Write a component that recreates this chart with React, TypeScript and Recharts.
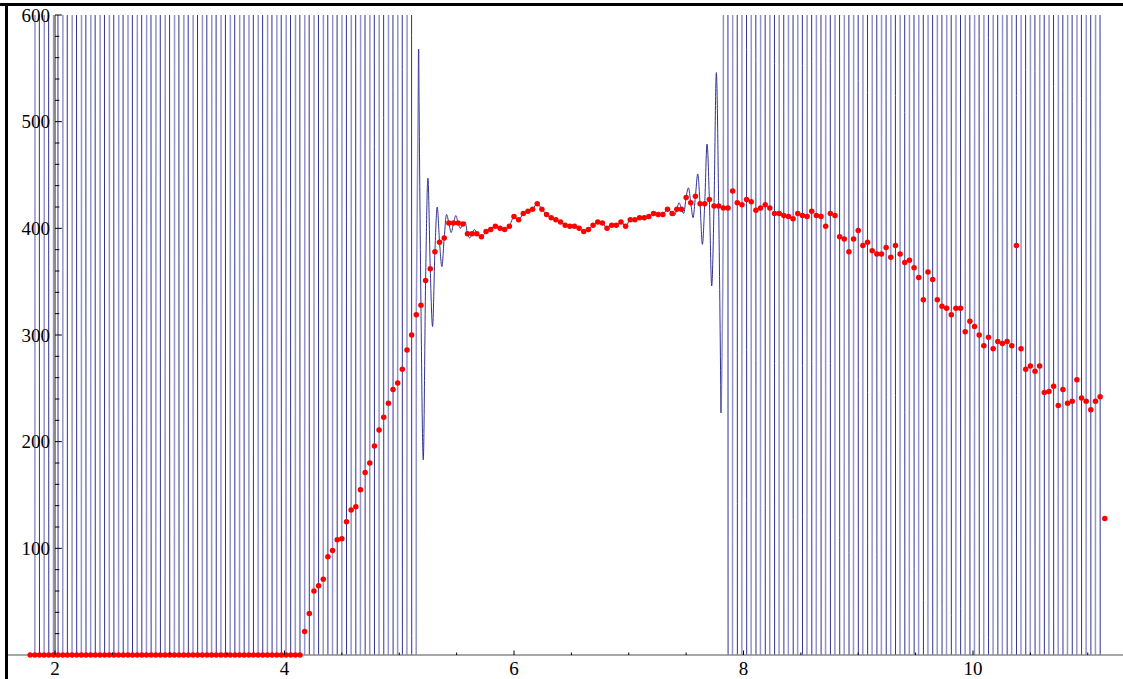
import React from 'react';
import { ComposedChart, Line, Scatter, XAxis, YAxis, ReferenceLine } from 'recharts';

// ---- data ----
const X_START = 1.7837; // x of the first sample
const X_STEP = 0.04054; // sample spacing

// red sample values
const RED: number[] = [
  0, 0, 0, 0, 0, 0, 0, 0, 0, 0,
  0, 0, 0, 0, 0, 0, 0, 0, 0, 0,
  0, 0, 0, 0, 0, 0, 0, 0, 0, 0,
  0, 0, 0, 0, 0, 0, 0, 0, 0, 0,
  0, 0, 0, 0, 0, 0, 0, 0, 0, 0,
  0, 0, 0, 0, 0, 0, 0, 0, 0,
  22, 39, 60, 65, 71, 92, 98, 108, 109, 125,
  136, 139, 155, 171, 180, 196, 211, 223, 236, 249,
  255, 268, 286, 300, 319, 328, 351, 362, 378, 387,
  391, 405, 405, 405, 404, 395, 395, 395, 392, 397,
  399, 402, 400, 399, 402, 411, 408, 414, 416, 418,
  423, 418, 413, 410, 408, 406, 403, 402, 402, 400,
  397, 399, 403, 406, 405, 400, 403, 403, 406, 402,
  408, 408, 410, 410, 411, 414, 413, 413, 418, 414,
  418, 418, 429, 424, 430, 423, 423, 427, 421, 421,
  419, 419, 435, 424, 422, 427, 425, 417, 419, 422,
  419, 414, 414, 412, 411, 409, 414, 412, 411, 416,
  412, 411, 402, 414, 412, 392, 390, 378, 390, 398,
  384, 387, 379, 376, 376, 382, 373, 384, 376, 368,
  370, 363, 354, 333, 359, 352, 333, 327, 325, 319,
  325, 325, 303, 313, 308, 300, 290, 298, 287, 294,
  292, 294, 290, 384, 287, 268, 271, 266, 271, 246,
  247, 252, 234, 249, 236, 238, 258, 241, 238, 230,
  238, 242, 128,
];

// blue interpolant: value half-way between sample i and i+1 (U / D = leaves the frame)
const U = 9000;
const D = -9000;
const BLUE_MID: (number | null)[] = [
  D, U, D, U, D, U, D, U, D, U, D, U, D, U, D, U, D, U, D, U,
  D, U, D, U, D, U, D, U, D, U, D, U, D, U, D, U, D, U, D, U,
  D, U, D, U, D, U, D, U, D, U, D, U, D, U, D, U, D, U, D, U,
  D, U, D, U, D, U, D, U, D, U, D, U, D, U, D, U, D, U, D, U,
  D, U, D,
  568, 183, 447, 308, 420, 364, 413, 396, 412, 400, 406, 391, 399,
  null, null, null, null, null, null, null, null, null, null,
  null, null, null, null, null, null, null, null, null, null,
  null, null, null, null, null, null, null, null, null, null,
  null, null, null, null, null, null, null, null, null, null,
  null, null,
  412, 424, 414, 438, 410, 451, 385, 479, 346, 546, 227,
  U, D, U, D, U, D, U, D, U, D, U, D, U, D, U, D, U, D, U, D,
  U, D, U, D, U, D, U, D, U, D, U, D, U, D, U, D, U, D, U, D,
  U, D, U, D, U, D, U, D, U, D, U, D, U, D, U, D, U, D, U, D,
  U, D, U, D, U, D, U, D, U, D, U, D, U, D, U, D, U, D, U, D,
  U, D,
];

const X_TICKS = [2, 2.5, 3, 3.5, 4, 4.5, 5, 5.5, 6, 6.5, 7, 7.5, 8, 8.5, 9, 9.5, 10, 10.5, 11];
const X_LABELS = [2, 4, 6, 8, 10];
const Y_LABELS = [100, 200, 300, 400, 500, 600];
const Y_MINOR = [
  20, 40, 60, 80, 120, 140, 160, 180, 220, 240, 260, 280,
  320, 340, 360, 380, 420, 440, 460, 480, 520, 540, 560, 580,
];

// ---- layout ----
const W = 1123;
const H = 679;
const X_DOMAIN: [number, number] = [1.5904, 11.3072];
const Y_DOMAIN: [number, number] = [0, 600];
const FONT = '"Liberation Serif", "Times New Roman", Times, serif';
const FONT_SIZE = 19;
const Y_MAJOR_LEN = 0.06;
const Y_MINOR_LEN = 0.038;

const xAt = (i: number) => X_START + X_STEP * i;
const dotRows = RED.map((y, i) => ({ x: xAt(i), y }));

// split the blue curve into its rising strokes (drawn light, as in the source raster) and the rest
const isOff = (v: number | null | undefined) => v === U || v === D;
const LAST = BLUE_MID.length - 1;
const strokeKind = (i: number) =>
  (isOff(BLUE_MID[i - 1]) || isOff(BLUE_MID[i])) && i % 2 === 1 ? 'light' : 'dark';
const blueRows: { x: number; dark: number | null; light: number | null }[] = [];
BLUE_MID.forEach((m, i) => {
  if (i >= 1) {
    const k = strokeKind(i);
    blueRows.push({ x: xAt(i), dark: k === 'dark' ? RED[i] : null, light: k === 'light' ? RED[i] : null });
  }
  if (m !== null) {
    const kinds: string[] = [];
    if (i >= 1) kinds.push(strokeKind(i));
    if (i + 1 <= LAST) kinds.push(strokeKind(i + 1));
    blueRows.push({
      x: xAt(i) + X_STEP / 2,
      dark: kinds.includes('dark') ? m : null,
      light: kinds.includes('light') ? m : null,
    });
  }
});

const XTick = (props: any) => {
  const { x, y, payload } = props;
  const v = payload.value;
  const major = X_LABELS.includes(v);
  return (
    <g>
      <line x1={x} x2={x} y1={y} y2={y - (major ? 4.5 : 2.5)} stroke="#000" strokeWidth={1} />
      {major && (
        <text x={x} y={y + 20} textAnchor="middle" fontSize={FONT_SIZE} fill="#000" style={{ fontFamily: FONT }}>
          {v}
        </text>
      )}
    </g>
  );
};

const YLabel = (props: any) => {
  const { viewBox, value } = props;
  return (
    <text
      x={viewBox.x - 5}
      y={viewBox.y + 6.5}
      textAnchor="end"
      fontSize={FONT_SIZE}
      fill="#000"
      style={{ fontFamily: FONT }}
    >
      {value}
    </text>
  );
};

const Dot = (p: any) => <circle cx={p.cx} cy={p.cy} r={2.75} fill="#ff0000" />;

export default function App() {
  return (
    <div style={{ position: 'absolute', left: 0, top: 0, width: W, height: H, background: '#fff', overflow: 'hidden' }}>
      <ComposedChart width={W} height={H} margin={{ top: 15, right: 0, bottom: 0, left: 8 }}>
        <XAxis
          dataKey="x"
          type="number"
          domain={X_DOMAIN}
          allowDataOverflow
          ticks={X_TICKS}
          interval={0}
          tickSize={0}
          tickMargin={0}
          tickLine={false}
          tick={<XTick />}
          axisLine={{ stroke: '#8a8a8a', strokeWidth: 1.5 }}
          height={24}
        />
        <YAxis yAxisId="line" type="number" domain={Y_DOMAIN} allowDataOverflow hide />
        <YAxis yAxisId="dots" type="number" domain={Y_DOMAIN} hide />
        <Line
          yAxisId="line"
          data={blueRows}
          dataKey="light"
          type="monotone"
          stroke="#9494c8"
          strokeWidth={1.5}
          dot={false}
          activeDot={false}
          isAnimationActive={false}
        />
        <Line
          yAxisId="line"
          data={blueRows}
          dataKey="dark"
          type="monotone"
          stroke="#32328f"
          strokeWidth={1}
          dot={false}
          activeDot={false}
          isAnimationActive={false}
        />
        <ReferenceLine yAxisId="dots" x={2} stroke="#8a8a8a" strokeWidth={2} />
        {Y_MINOR.map((v) => (
          <ReferenceLine
            key={'m' + v}
            yAxisId="dots"
            segment={[{ x: 2, y: v }, { x: 2 + Y_MINOR_LEN, y: v }]}
            stroke="#000"
            strokeWidth={1}
          />
        ))}
        {Y_LABELS.map((v) => (
          <ReferenceLine
            key={'M' + v}
            yAxisId="dots"
            segment={[{ x: 2, y: v }, { x: 2 + Y_MAJOR_LEN, y: v }]}
            stroke="#000"
            strokeWidth={1}
            label={<YLabel value={String(v)} />}
          />
        ))}
        <Scatter yAxisId="dots" data={dotRows} dataKey="y" shape={Dot} isAnimationActive={false} />
      </ComposedChart>
      <div style={{ position: 'absolute', left: 0, top: 3, width: W, height: 3, background: '#000' }} />
      <div style={{ position: 'absolute', left: 5, top: 3, width: 2.5, height: H, background: '#000' }} />
    </div>
  );
}
